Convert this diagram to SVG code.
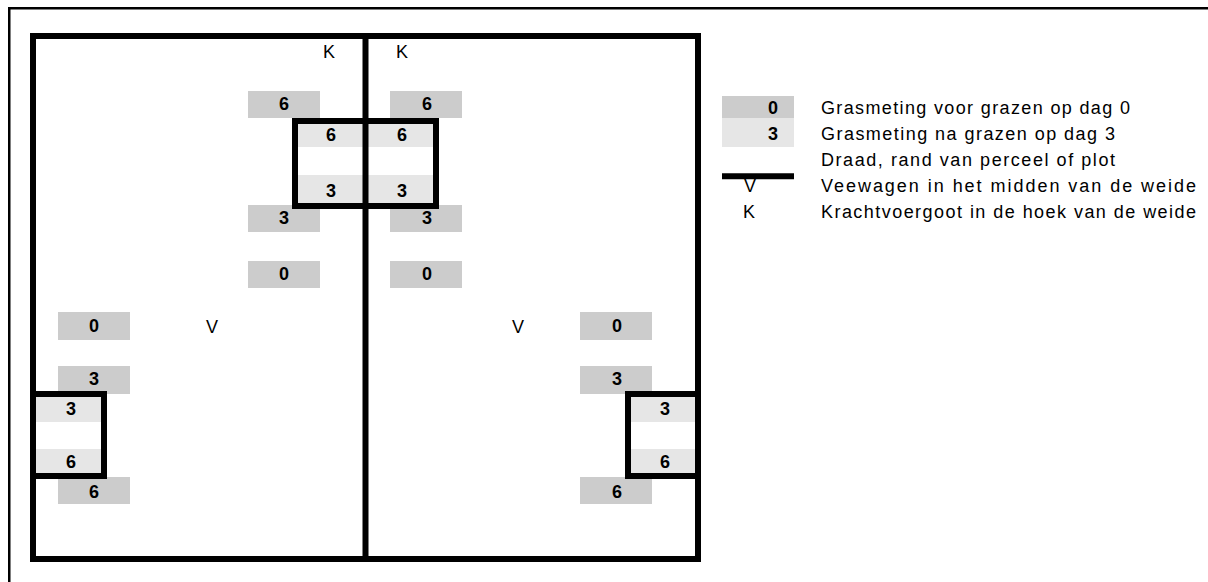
<svg xmlns="http://www.w3.org/2000/svg" width="1208" height="582" viewBox="0 0 1208 582">
  <style>
    .dk { fill: #cccccc; }
    .lt { fill: #e6e6e6; }
    .wire { fill: none; stroke: #000; stroke-width: 6; stroke-linecap: square; }
    .frame { fill: none; stroke: #000; stroke-width: 2.5; }
    .num { font-family: "Liberation Sans", Arial, sans-serif; font-size: 18px; font-weight: bold; text-anchor: middle; fill: #000; }
    .mark { font-family: "Liberation Sans", Arial, sans-serif; font-size: 18px; text-anchor: middle; fill: #000; }
    .leg { font-family: "Liberation Sans", Arial, sans-serif; font-size: 18px; fill: #000; }
  </style>

  <rect width="1208" height="582" fill="#fff"/>
  <!-- page frame (continues past the right and bottom edges) -->
  <path class="frame" d="M9.25,590 V8.25 H1220"/>

  <!-- grass measurement strips inside the plots (light = after grazing) -->
  <g id="plot-top-fill">
    <rect class="lt" x="295" y="121" width="141" height="26"/>
    <rect class="lt" x="295" y="175" width="141" height="31"/>
  </g>
  <g id="plot-left-fill">
    <rect class="lt" x="33" y="394" width="71" height="28"/>
    <rect class="lt" x="33" y="449" width="71" height="27"/>
  </g>
  <g id="plot-right-fill">
    <rect class="lt" x="628" y="394" width="70" height="28"/>
    <rect class="lt" x="628" y="449" width="70" height="27"/>
  </g>

  <!-- measurements before grazing (dark) -->
  <g id="meas-top-left">
    <rect class="dk" x="248" y="91" width="72" height="27"/>
    <rect class="dk" x="248" y="205" width="72" height="27"/>
    <rect class="dk" x="248" y="261" width="72" height="27"/>
  </g>
  <g id="meas-top-right">
    <rect class="dk" x="390" y="91" width="72" height="27"/>
    <rect class="dk" x="390" y="205" width="72" height="27"/>
    <rect class="dk" x="390" y="261" width="72" height="27"/>
  </g>
  <g id="meas-left">
    <rect class="dk" x="58" y="312" width="72" height="28"/>
    <rect class="dk" x="58" y="366" width="72" height="28"/>
    <rect class="dk" x="58" y="477" width="72" height="27"/>
  </g>
  <g id="meas-right">
    <rect class="dk" x="580" y="312" width="72" height="28"/>
    <rect class="dk" x="580" y="366" width="72" height="28"/>
    <rect class="dk" x="580" y="477" width="72" height="27"/>
  </g>

  <!-- wires: meadow boundary, divider and plot borders -->
  <g id="wires">
    <rect class="wire" x="33" y="36" width="665" height="523"/>
    <line class="wire" x1="365.5" y1="36" x2="365.5" y2="559"/>
    <rect class="wire" x="295" y="121" width="141" height="85"/>
    <rect class="wire" x="33" y="394" width="71" height="82"/>
    <rect class="wire" x="628" y="394" width="70" height="82"/>
  </g>

  <!-- values -->
  <g id="values-top">
    <text class="num" x="284" y="110">6</text>
    <text class="num" x="427" y="110">6</text>
    <text class="num" x="331" y="141">6</text>
    <text class="num" x="402" y="141">6</text>
    <text class="num" x="331" y="197">3</text>
    <text class="num" x="402" y="197">3</text>
    <text class="num" x="284" y="224">3</text>
    <text class="num" x="427" y="224">3</text>
    <text class="num" x="284" y="280">0</text>
    <text class="num" x="427" y="280">0</text>
  </g>
  <g id="values-left">
    <text class="num" x="94" y="332">0</text>
    <text class="num" x="94" y="385">3</text>
    <text class="num" x="71" y="415">3</text>
    <text class="num" x="71" y="468">6</text>
    <text class="num" x="94" y="498">6</text>
  </g>
  <g id="values-right">
    <text class="num" x="617" y="332">0</text>
    <text class="num" x="617" y="385">3</text>
    <text class="num" x="665" y="415">3</text>
    <text class="num" x="665" y="468">6</text>
    <text class="num" x="617" y="498">6</text>
  </g>

  <!-- cattle truck (V) and feed trough (K) -->
  <g id="markers">
    <text class="mark" x="329" y="58">K</text>
    <text class="mark" x="402" y="58">K</text>
    <text class="mark" x="212" y="333">V</text>
    <text class="mark" x="518" y="333">V</text>
  </g>

  <!-- legend -->
  <g id="legend">
    <rect class="dk" x="722" y="96" width="72" height="22"/>
    <rect class="lt" x="722" y="118" width="72" height="29"/>
    <text class="num" x="773" y="114">0</text>
    <text class="num" x="773" y="140">3</text>
    <line x1="722" y1="176.3" x2="794" y2="176.3" stroke="#000" stroke-width="6"/>
    <text class="mark" x="750" y="192">V</text>
    <text class="mark" x="749" y="218">K</text>
    <text class="leg" x="821" y="114" textLength="309" lengthAdjust="spacing">Grasmeting voor grazen op dag 0</text>
    <text class="leg" x="821" y="140" textLength="294" lengthAdjust="spacing">Grasmeting na grazen op dag 3</text>
    <text class="leg" x="821" y="166" textLength="294" lengthAdjust="spacing">Draad, rand van perceel of plot</text>
    <text class="leg" x="821" y="192" textLength="375" lengthAdjust="spacing">Veewagen in het midden van de weide</text>
    <text class="leg" x="821" y="218" textLength="375" lengthAdjust="spacing">Krachtvoergoot in de hoek van de weide</text>
  </g>
</svg>
